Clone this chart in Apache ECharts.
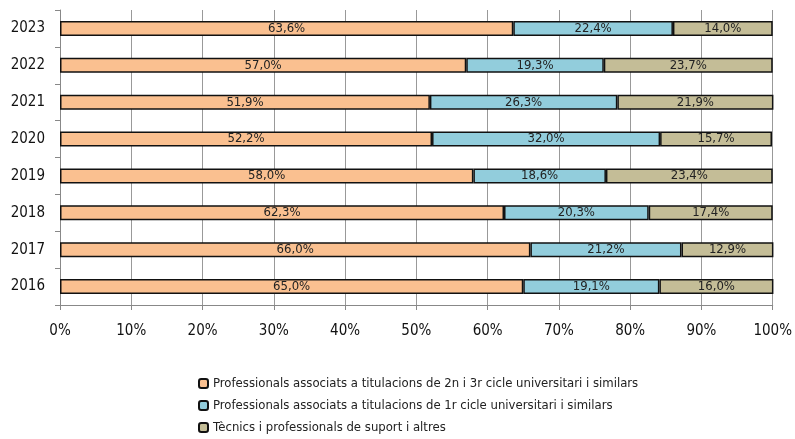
<!DOCTYPE html>
<html>
<head>
<meta charset="utf-8">
<script src="https://cdn.jsdelivr.net/npm/echarts@6/dist/echarts.min.js"></script>
<style>
  html,body{margin:0;padding:0;background:#fff;}
  #chart{width:795px;height:439px;}
</style>
</head>
<body>
<div id="chart"></div>
<script>
var years = ['2016','2017','2018','2019','2020','2021','2022','2023'];
var seriesNames = [
  'Professionals associats a titulacions de 2n i 3r cicle universitari i similars',
  'Professionals associats a titulacions de 1r cicle universitari i similars',
  'Tècnics i professionals de suport i altres'
];
var prof2n3r = [65.0, 66.0, 62.3, 58.0, 52.2, 51.9, 57.0, 63.6];
var prof1r   = [19.1, 21.2, 20.3, 18.6, 32.0, 26.3, 19.3, 22.4];
var tecnics  = [16.0, 12.9, 17.4, 23.4, 15.7, 21.9, 23.7, 14.0];
var colors = ['#FAC090', '#92CDDC', '#C4BD97'];

var font = "'Liberation Sans Narrow', 'DejaVu Sans Condensed', sans-serif";

function fmt(p){
  return p.value.toFixed(1).replace('.', ',') + '%';
}

function makeSeries(name, data, color){
  return {
    name: name,
    type: 'bar',
    stack: 'total',
    data: data,
    barWidth: 15,
    itemStyle: {color: color, borderColor: '#111', borderWidth: 1.5},
    label: {
      show: true,
      position: 'inside',
      formatter: fmt,
      color: '#222',
      fontSize: 13,
      fontFamily: font
    }
  };
}

var chart = echarts.init(document.getElementById('chart'));
var option = {
  animation: false,
  grid: {left: 60, right: 22, top: 10, bottom: 134, containLabel: false},
  legend: {
    orient: 'vertical',
    left: 193,
    top: 372,
    height: 70,
    itemWidth: 9,
    itemHeight: 9,
    itemGap: 9,
    textStyle: {fontSize: 13, fontFamily: font, color: '#222'},
    data: seriesNames
  },
  xAxis: {
    type: 'value',
    min: 0,
    max: 100,
    interval: 10,
    axisLabel: {formatter: '{value}%', fontSize: 15, fontFamily: font, color: '#111', margin: 19},
    axisLine: {show: true, lineStyle: {color: '#888'}},
    axisTick: {show: true, length: 5, lineStyle: {color: '#888'}},
    splitLine: {show: true, lineStyle: {color: '#999'}}
  },
  yAxis: {
    type: 'category',
    data: years,
    axisLabel: {fontSize: 15, fontFamily: font, color: '#111', margin: 15},
    axisLine: {show: true, lineStyle: {color: '#888'}},
    axisTick: {show: true, length: 5, lineStyle: {color: '#888'}},
    splitLine: {show: false}
  },
  series: [
    makeSeries(seriesNames[0], prof2n3r, colors[0]),
    makeSeries(seriesNames[1], prof1r, colors[1]),
    makeSeries(seriesNames[2], tecnics, colors[2])
  ]
};
chart.setOption(option);
</script>
</body>
</html>
